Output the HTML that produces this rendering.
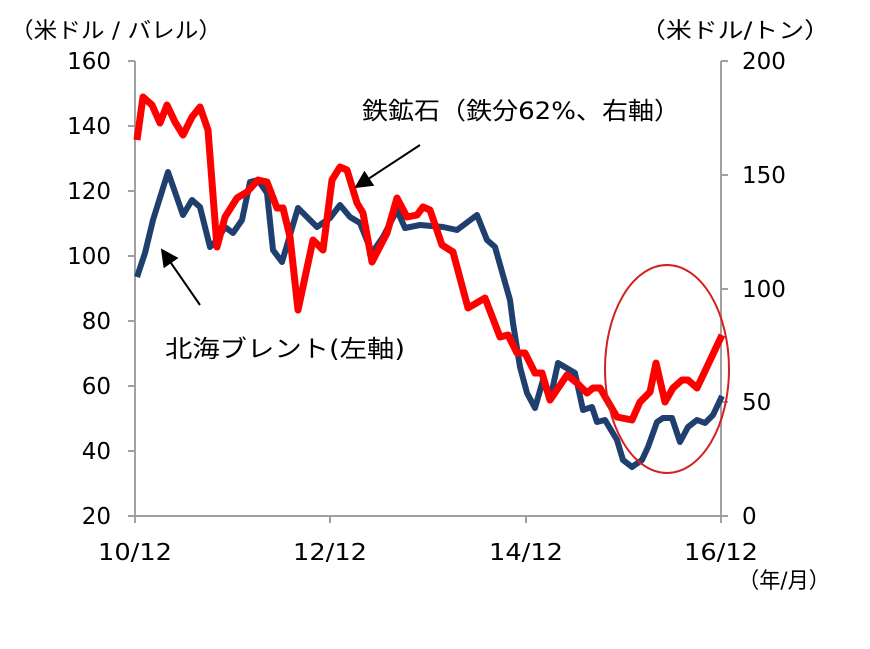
<!DOCTYPE html>
<html><head><meta charset="utf-8"><style>
body{margin:0;background:#fff;}
svg text{font-family:"DejaVu Sans","Noto Sans CJK JP",sans-serif;fill:#000;}
</style></head><body>
<svg width="870" height="644" viewBox="0 0 870 644" xmlns="http://www.w3.org/2000/svg">
<defs>
<marker id="ah2" markerWidth="18" markerHeight="18" refX="16" refY="9" orient="auto" markerUnits="userSpaceOnUse"><path d="M0,0 L18,9 L0,18 z" fill="#000"/></marker></defs>
<g stroke="#a0a0a0" stroke-width="2" fill="none">
<line x1="135" y1="61" x2="135" y2="517"/>
<line x1="721" y1="61" x2="721" y2="517"/>
<line x1="128" y1="516" x2="721" y2="516"/>
<line x1="128" y1="61" x2="135" y2="61"/><line x1="128" y1="126" x2="135" y2="126"/><line x1="128" y1="191" x2="135" y2="191"/><line x1="128" y1="256" x2="135" y2="256"/><line x1="128" y1="321" x2="135" y2="321"/><line x1="128" y1="386" x2="135" y2="386"/><line x1="128" y1="451" x2="135" y2="451"/>
<line x1="721" y1="61" x2="728" y2="61"/><line x1="721" y1="175" x2="728" y2="175"/><line x1="721" y1="289" x2="728" y2="289"/><line x1="721" y1="402" x2="728" y2="402"/><line x1="721" y1="516" x2="728" y2="516"/>
<line x1="135" y1="516" x2="135" y2="523"/><line x1="330" y1="516" x2="330" y2="523"/><line x1="526" y1="516" x2="526" y2="523"/><line x1="721" y1="516" x2="721" y2="523"/>
</g>
<g font-size="23" text-anchor="end">
<text x="111" y="69">160</text><text x="111" y="134">140</text><text x="111" y="199">120</text><text x="111" y="264">100</text><text x="111" y="329">80</text><text x="111" y="394">60</text><text x="111" y="459">40</text><text x="111" y="524">20</text>
</g>
<g font-size="23" text-anchor="start">
<text x="742" y="69">200</text><text x="742" y="183">150</text><text x="742" y="297">100</text><text x="742" y="410">50</text><text x="742" y="524">0</text>
</g>
<g font-size="23">
<text x="98" y="560" textLength="74" lengthAdjust="spacingAndGlyphs">10/12</text><text x="293" y="560" textLength="74" lengthAdjust="spacingAndGlyphs">12/12</text><text x="489" y="560" textLength="74" lengthAdjust="spacingAndGlyphs">14/12</text><text x="684" y="560" textLength="74" lengthAdjust="spacingAndGlyphs">16/12</text>
</g>
<text x="10" y="38" font-size="22" textLength="212" lengthAdjust="spacingAndGlyphs">（米ドル / バレル）</text>
<text x="640" y="38" font-size="22" textLength="190" lengthAdjust="spacingAndGlyphs">（米ドル/トン）</text>
<text x="738" y="588" font-size="22" textLength="92" lengthAdjust="spacingAndGlyphs">（年/月）</text>
<text x="362" y="119" font-size="24" textLength="318" lengthAdjust="spacingAndGlyphs">鉄鉱石（鉄分62%、右軸）</text>
<text x="165" y="357" font-size="24" textLength="240" lengthAdjust="spacingAndGlyphs">北海ブレント(左軸)</text>
<polyline fill="none" stroke="#1f3f6e" stroke-width="6" stroke-linejoin="round" points="137,277 145,253 153,220 168,172 183,215 192,200 200,207 210,247 217,240 225,227 233,233 242,220 250,182 258,180 267,193 273,250 282,262 298,208 317,227 330,218 340,205 350,217 360,223 372,253 383,237 397,210 405,228 420,225 443,227 457,230 477,215 487,240 495,247 510,300 513,323 520,367 527,393 535,408 543,380 550,400 558,363 575,373 583,410 592,407 597,422 605,420 617,440 623,460 632,467 642,460 648,447 657,422 663,418 672,418 680,442 688,427 697,420 705,423 713,415 722,396"/>
<polyline fill="none" stroke="#ff0000" stroke-width="7" stroke-linejoin="round" points="137,140 143,97 152,105 160,123 167,105 175,122 183,135 192,117 200,107 208,130 217,247 225,217 237,198 247,192 258,180 267,182 277,208 283,208 290,237 298,310 313,240 323,250 332,180 340,167 347,170 357,203 363,213 372,262 387,233 397,198 407,217 417,215 423,207 430,210 442,245 453,252 468,308 485,298 500,337 508,335 517,353 525,353 535,373 542,373 550,400 567,375 577,383 587,393 593,388 600,388 617,417 632,420 640,402 650,392 656,363 665,402 673,388 682,380 688,380 697,388 722,335"/>
<ellipse cx="667" cy="369" rx="62" ry="104" fill="none" stroke="#d42020" stroke-width="2"/>
<line x1="420" y1="145" x2="356" y2="187" stroke="#000" stroke-width="2" marker-end="url(#ah2)"/>
<line x1="200" y1="305" x2="162" y2="250" stroke="#000" stroke-width="2" marker-end="url(#ah2)"/>
</svg>
</body></html>
